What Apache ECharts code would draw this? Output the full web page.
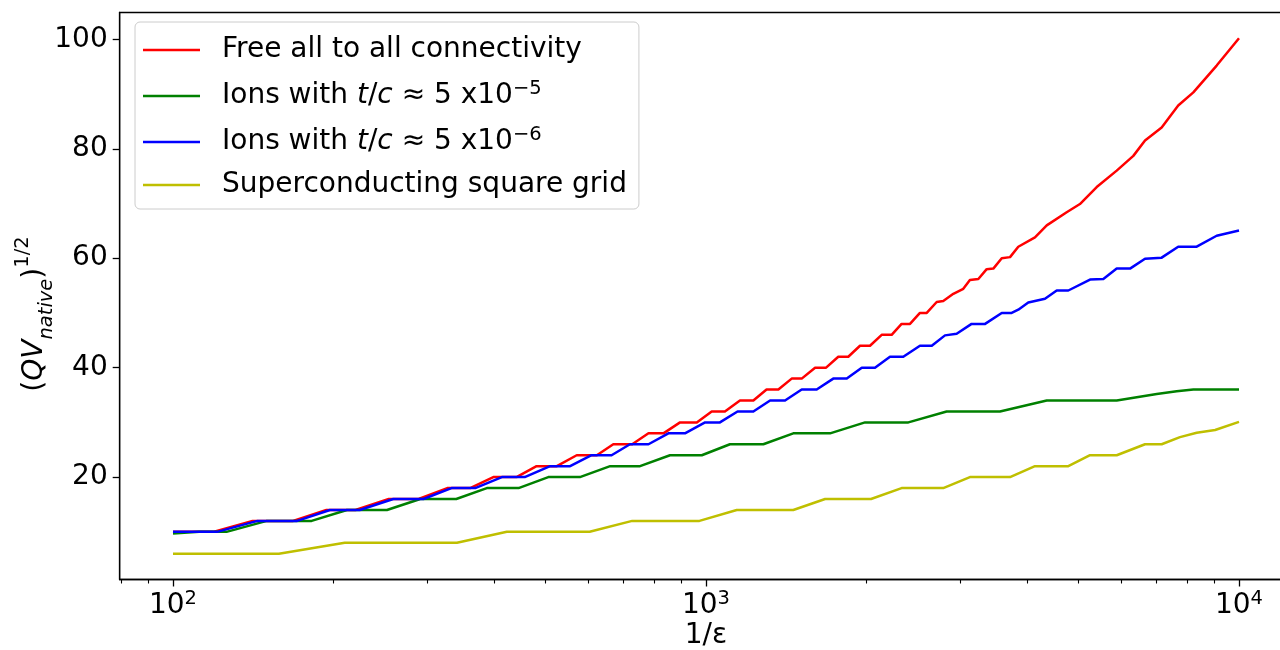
<!DOCTYPE html>
<html>
<head>
<meta charset="utf-8">
<script src="https://cdn.jsdelivr.net/npm/echarts@6/dist/echarts.min.js"></script>
<style>
html,body{margin:0;padding:0;background:#fff;}
#chart{width:1280px;height:650px;}
</style>
</head>
<body>
<div id="chart"></div>
<script>
// ---- data (x = 1/epsilon, y = (QV_native)^(1/2)) ----
const seriesNames = [
  'Free all to all connectivity',
  'Ions with t/c ≈ 5 x10^-5',
  'Ions with t/c ≈ 5 x10^-6',
  'Superconducting square grid'
];
const freeAllToAll = [[100,10],[119,10],[141,12],[168,12],[194,14],[220,14],[254,16],[289,16],[327,18],[361,18],[399,20],[441,20],[481,22],[525,22],[572,24],[624,24],[670,26],[727,26],[780,28],[832,28],[894,30],[961,30],[1025,32],[1085,32],[1158,34],[1227,34],[1299,36],[1367,36],[1448,38],[1512,38],[1602,40],[1680,40],[1771,42],[1849,42],[1945,44],[2031,44],[2136,46],[2230,46],[2328,48],[2414,48],[2520,50],[2595,50],[2709,52],[2787,52.2],[2911,53.5],[3039,54.4],[3127,56],[3243,56.2],[3362,58],[3460,58.1],[3588,60],[3719,60.2],[3854,62.1],[4142,63.8],[4358,66],[4750,68.4],[5030,69.9],[5408,73],[5896,76],[6335,78.7],[6663,81.5],[7160,83.9],[7690,87.9],[8210,90.3],[9080,95.2],[10000,100.2]];
const ions5e5 = [[100,9.7],[112,10],[126,10],[150,12],[182,12],[212,14],[252,14],[291,16],[340,16],[388,18],[445,18],[506,20],[580,20],[661,22],[752,22],[856,24],[982,24],[1109,26],[1281,26],[1458,28],[1709,28],[1988,30],[2397,30],[2828,32],[3561,32],[4358,34],[5896,34],[7010,35.2],[7640,35.7],[8210,36],[10000,36]];
const ions5e6 = [[100,10],[121,10],[144,12],[171,12],[197,14],[224,14],[259,16],[295,16],[333,18],[369,18],[414,20],[457,20],[510,22],[556,22],[610,24],[665,24],[720,26],[780,26],[850,28],[913,28],[996,30],[1062,30],[1146,32],[1227,32],[1319,34],[1407,34],[1512,36],[1613,36],[1733,38],[1837,38],[1960,40],[2075,40],[2214,42],[2345,42],[2520,44],[2652,44],[2808,45.9],[2953,46.2],[3150,48],[3339,48],[3588,50],[3745,50],[3854,50.6],[4024,51.9],[4325,52.6],[4550,54.1],[4784,54.1],[5254,56.1],[5565,56.2],[5896,58.1],[6245,58.1],[6663,59.9],[7160,60.1],[7690,62.1],[8330,62.1],[9080,64.1],[10000,65.05]];
const superconducting = [[100,6],[158,6],[210,8],[341,8],[423,10],[605,10],[727,12],[972,12],[1142,14],[1458,14],[1673,16],[2040,16],[2328,18],[2787,18],[3127,20],[3719,20],[4142,22],[4784,22],[5254,24],[5896,24],[6663,26],[7160,26],[7750,27.3],[8330,28.1],[9020,28.6],[10000,30.1]];
const xMajorTicks = [100, 1000, 10000];
const xMinorTicks = [80, 90, 200, 300, 400, 500, 600, 700, 800, 900, 2000, 3000, 4000, 5000, 6000, 7000, 8000, 9000];
const yTicks = [20, 40, 60, 80, 100];

const FONT = 'DejaVu Sans';
const FS = 28, FSS = 19.5;
const colors = ['#ff0000', '#008000', '#0000ff', '#bfbf00'];
const legendRich = {
  sp: {width: 17, fontSize: FS, fontFamily: FONT, lineHeight: 34},
  n: {fontSize: FS, fontFamily: FONT, lineHeight: 34, color: '#000'},
  i: {fontSize: FS, fontFamily: FONT, lineHeight: 34, fontStyle: 'italic', color: '#000'},
  sup: {fontSize: FSS, fontFamily: FONT, lineHeight: 19, verticalAlign: 'top', color: '#000'}
};
const legendLabels = {};
legendLabels[seriesNames[0]] = '{sp| }{n|Free all to all connectivity}';
legendLabels[seriesNames[1]] = '{sp| }{n|Ions with }{i|t}{n|/}{i|c}{n| ≈ 5 x10}{sup|−5}';
legendLabels[seriesNames[2]] = '{sp| }{n|Ions with }{i|t}{n|/}{i|c}{n| ≈ 5 x10}{sup|−6}';
legendLabels[seriesNames[3]] = '{sp| }{n|Superconducting square grid}';

const chart = echarts.init(document.getElementById('chart'), null, {renderer: 'canvas'});
const dataSets = [freeAllToAll, ions5e5, ions5e6, superconducting];

const xMin = 79.4328, xMax = 12589.25;
const option = {
  backgroundColor: '#ffffff',
  animation: false,
  textStyle: {fontFamily: FONT},
  grid: {
    left: 119.7, top: 12.5, width: 1172.6, height: 567,
    containLabel: false, outerBoundsMode: 'none',
    show: true, borderColor: '#000', borderWidth: 1.3, backgroundColor: 'transparent'
  },
  legend: {
    orient: 'vertical', left: 135, top: 22,
    padding: [14, 12, 10, 8],
    itemWidth: 57, itemHeight: 2.6, itemGap: 15,
    icon: 'rect',
    backgroundColor: 'rgba(255,255,255,0.8)',
    borderColor: '#cccccc', borderWidth: 1, borderRadius: 5,
    selectedMode: false,
    data: seriesNames,
    formatter: function (name) { return legendLabels[name]; },
    textStyle: {rich: legendRich, fontSize: FS, fontFamily: FONT, color: '#000'}
  },
  xAxis: [{
    type: 'log', logBase: 10, min: xMin, max: xMax,
    name: '1/ε', nameLocation: 'middle', nameGap: 42, nameMoveOverlap: false,
    nameTextStyle: {fontSize: FS, fontFamily: FONT, color: '#000'},
    axisLine: {show: true, lineStyle: {color: '#000', width: 1.3}},
    axisTick: {show: true, length: 7, lineStyle: {color: '#000', width: 1.3}, customValues: xMajorTicks},
    axisLabel: {
      show: true, margin: 9, customValues: xMajorTicks,
      formatter: function (v) { return '{b|10}{s|' + Math.round(Math.log10(v)) + '}'; },
      rich: {
        b: {fontSize: FS, fontFamily: FONT, lineHeight: 34, color: '#000'},
        s: {fontSize: FSS, fontFamily: FONT, lineHeight: 19, verticalAlign: 'top', color: '#000'}
      }
    },
    splitLine: {show: false}, minorTick: {show: false}, minorSplitLine: {show: false}
  }, {
    type: 'log', logBase: 10, min: xMin, max: xMax, gridIndex: 0, position: 'bottom',
    axisLine: {show: false},
    axisTick: {show: true, length: 4, lineStyle: {color: '#000', width: 1.1}, customValues: xMinorTicks},
    axisLabel: {show: false},
    splitLine: {show: false}
  }],
  yAxis: {
    type: 'value', min: 1.29, max: 104.9,
    name: '{n|(}{i|QV}{sub|native}{n|)}{sup|1/2}{sp| }',
    nameLocation: 'middle', nameRotate: 90, nameGap: 63, nameMoveOverlap: false,
    nameTextStyle: {
      rich: {
        n: {fontSize: FS, fontFamily: FONT, lineHeight: 44, color: '#000'},
        i: {fontSize: FS, fontFamily: FONT, lineHeight: 44, fontStyle: 'italic', color: '#000'},
        sub: {fontSize: FSS, fontFamily: FONT, lineHeight: 19, fontStyle: 'italic', verticalAlign: 'bottom', color: '#000'},
        sup: {fontSize: FSS, fontFamily: FONT, lineHeight: 19, verticalAlign: 'top', color: '#000'},
        sp: {width: 36, fontSize: FS, fontFamily: FONT, lineHeight: 44}
      }
    },
    axisLine: {show: true, lineStyle: {color: '#000', width: 1.3}},
    axisTick: {show: true, length: 7, lineStyle: {color: '#000', width: 1.3}, customValues: yTicks},
    axisLabel: {show: true, margin: 12, fontSize: FS, fontFamily: FONT, color: '#000', customValues: yTicks},
    splitLine: {show: false}
  },
  series: seriesNames.map(function (name, k) {
    return {
      name: name, type: 'line', xAxisIndex: 0, yAxisIndex: 0,
      data: dataSets[k], showSymbol: false, symbol: 'none',
      lineStyle: {color: colors[k], width: 2.5, join: 'round'},
      itemStyle: {color: colors[k]},
      smooth: false, clip: true
    };
  })
};
chart.setOption(option);
</script>
</body>
</html>
